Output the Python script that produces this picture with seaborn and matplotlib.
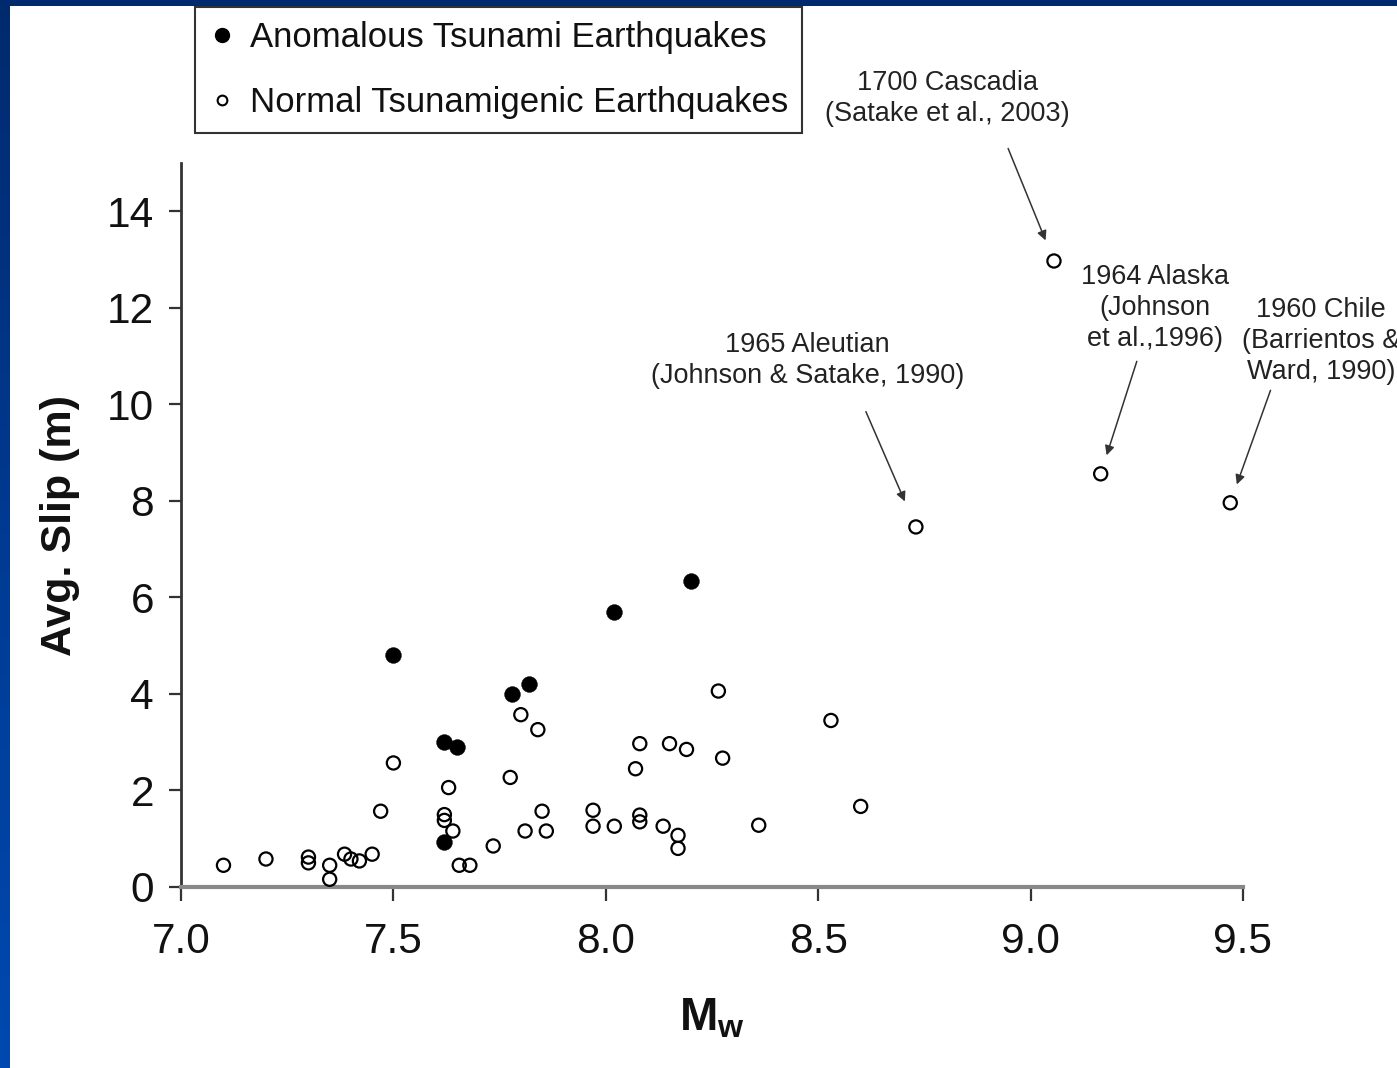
import numpy as np
import matplotlib
matplotlib.use("Agg")
import matplotlib.pyplot as plt
from matplotlib.lines import Line2D
from matplotlib.colors import LinearSegmentedColormap
import seaborn as sns
import pandas as pd

# ---------------- data ----------------
anom_mw = [7.50, 7.62, 7.65, 7.62, 7.78, 7.82, 8.02, 8.20]
anom_slip = [4.80, 3.00, 2.90, 0.93, 4.00, 4.20, 5.70, 6.35]

normal_mw = [7.10, 7.20, 7.30, 7.30, 7.35, 7.35, 7.385, 7.40, 7.42, 7.45,
             7.47, 7.50, 7.62, 7.62, 7.64, 7.63, 7.655, 7.68, 7.735, 7.775,
             7.80, 7.84, 7.85, 7.81, 7.86, 7.97, 7.97, 8.02, 8.07, 8.08,
             8.08, 8.08, 8.15, 8.19, 8.135, 8.17, 8.17, 8.265, 8.275, 8.36,
             8.53, 8.60, 8.73, 9.055, 9.165, 9.47]
normal_slip = [0.45, 0.58, 0.62, 0.50, 0.45, 0.16, 0.68, 0.58, 0.54, 0.68,
               1.57, 2.57, 1.50, 1.38, 1.16, 2.06, 0.45, 0.45, 0.85, 2.27,
               3.57, 3.26, 1.57, 1.16, 1.16, 1.59, 1.26, 1.26, 2.45, 2.97,
               1.49, 1.35, 2.97, 2.85, 1.26, 1.07, 0.80, 4.06, 2.67, 1.28,
               3.45, 1.67, 7.46, 12.97, 8.56, 7.96]

legend_labels = ["Anomalous Tsunami Earthquakes", "Normal Tsunamigenic Earthquakes"]
x_ticks = [7.0, 7.5, 8.0, 8.5, 9.0, 9.5]
x_tick_labels = ["7.0", "7.5", "8.0", "8.5", "9.0", "9.5"]
y_ticks = [0, 2, 4, 6, 8, 10, 12, 14]

# annotated events: (label, mw, slip)
ann_labels = ["1965 Aleutian\n(Johnson & Satake, 1990)",
              "1700 Cascadia\n(Satake et al., 2003)",
              "1964 Alaska\n(Johnson\net al.,1996)",
              "1960 Chile\n(Barrientos &\nWard, 1990)"]
ann_mw = [8.73, 9.055, 9.165, 9.47]
ann_slip = [7.46, 12.97, 8.56, 7.96]

# ---------------- styling / layout ----------------
sns.set_theme(style="ticks")
plt.rcParams["font.family"] = ["Liberation Sans", "DejaVu Sans"]
plt.rcParams["mathtext.fontset"] = "custom"
plt.rcParams["mathtext.rm"] = "Liberation Sans"
plt.rcParams["mathtext.bf"] = "Liberation Sans:bold"

W, H = 1397, 1068
fig = plt.figure(figsize=(W / 100, H / 100), dpi=100, facecolor="white")

# blue slide frame (left and top bands)
band_ax = fig.add_axes([0, 0, 10 / W, 1])
cmap = LinearSegmentedColormap.from_list("band", ["#0049b0", "#003a92", "#002a6e"])
band_ax.imshow(np.linspace(0, 1, 256)[:, None], aspect="auto", cmap=cmap,
               origin="lower", extent=[0, 1, 0, 1])
band_ax.set_axis_off()
top_ax = fig.add_axes([0, 1 - 6 / H, 1, 6 / H])
top_ax.set_facecolor("#002a6e")
top_ax.set_xticks([]); top_ax.set_yticks([])
for s in top_ax.spines.values():
    s.set_visible(False)

ax = fig.add_axes([181 / W, 1 - 887 / H, (1243 - 181) / W, (887 - 163) / H])
ax.set_facecolor("white")

df_n = pd.DataFrame({"mw": normal_mw, "slip": normal_slip})
df_a = pd.DataFrame({"mw": anom_mw, "slip": anom_slip})

sns.scatterplot(data=df_n, x="mw", y="slip", ax=ax, marker="o", s=90,
                facecolors="none", edgecolors="black", linewidth=1.6, zorder=3)
sns.scatterplot(data=df_a, x="mw", y="slip", ax=ax, marker="o", s=130,
                color="black", edgecolor="black", linewidth=0.3, zorder=4)
for c in ax.collections[:1]:
    c.set_facecolor("none")
    c.set_edgecolor("black")

ax.set_xlim(7.0, 9.5)
ax.set_ylim(0, 15)
ax.set_xticks(x_ticks)
ax.set_xticklabels(x_tick_labels)
ax.set_yticks(y_ticks)

ax.tick_params(axis="y", direction="out", length=8.5, width=1.6, color="#333333",
               labelsize=30.5, pad=11, labelcolor="#111111")
ax.tick_params(axis="x", direction="out", length=10, width=1.6, color="#333333",
               labelsize=30.5, pad=15, labelcolor="#111111")

for side in ["top", "right"]:
    ax.spines[side].set_visible(False)
ax.spines["left"].set_color("#333333")
ax.spines["left"].set_linewidth(2.0)
ax.spines["bottom"].set_color("#888888")
ax.spines["bottom"].set_linewidth(3.0)

ax.set_ylabel("Avg. Slip (m)", fontsize=31, fontweight="bold", labelpad=19, color="#111111")
ax.set_xlabel(r"$\mathbf{M_w}$", fontsize=33, labelpad=25, color="#111111")

# annotations
text_pos = [(8.475, 10.90), (8.804, 16.33), (9.292, 12.0), (9.684, 11.31)]
arrow_start = [(-36, 83), (-33, 81), (26, 81), (29, 81)]
arrow_shrink = [20, 16, 14, 14]
for lab, mx, sy, tp, st, sh in zip(ann_labels, ann_mw, ann_slip, text_pos,
                                   arrow_start, arrow_shrink):
    ax.text(tp[0], tp[1], lab, ha="center", va="center", fontsize=19.5,
            linespacing=1.25, color="#222222", clip_on=False)
    ax.annotate("", xy=(mx, sy), xycoords="data", xytext=st,
                textcoords="offset points",
                arrowprops=dict(arrowstyle="-|>", color="#333333", lw=1.1,
                                mutation_scale=14, shrinkA=0, shrinkB=sh),
                annotation_clip=False)

# legend
handles = [Line2D([], [], marker="o", linestyle="none", markersize=10,
                  markerfacecolor="black", markeredgecolor="black"),
           Line2D([], [], marker="o", linestyle="none", markersize=7,
                  markerfacecolor="none", markeredgecolor="black", markeredgewidth=1.5)]
leg = fig.legend(handles, legend_labels, loc="upper left",
                 bbox_to_anchor=(195 / W, 1 - 7 / H), bbox_transform=fig.transFigure,
                 fontsize=25, frameon=True, fancybox=False, edgecolor="black",
                 borderpad=0.4, labelspacing=0.92, handlelength=0.75,
                 handletextpad=0.43, borderaxespad=0)
leg.get_frame().set_linewidth(1.5)
for t in leg.get_texts():
    t.set_color("#111111")

fig.savefig("out.png", dpi=100, facecolor="white")
